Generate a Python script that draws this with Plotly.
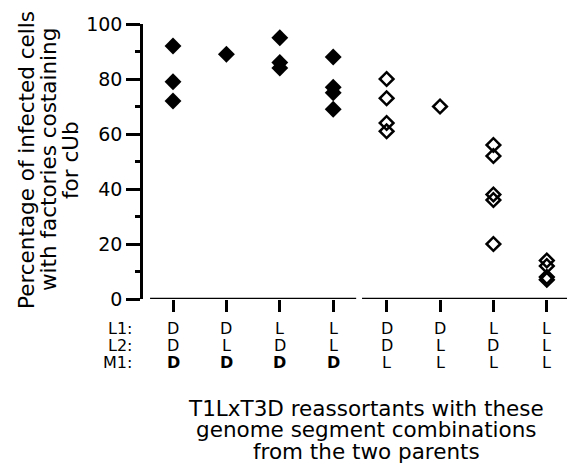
import plotly.graph_objects as go

# ---- data ----
categories = [0, 1, 2, 3, 4, 5, 6, 7]
L1 = ["D", "D", "L", "L", "D", "D", "L", "L"]
L2 = ["D", "L", "D", "L", "D", "L", "D", "L"]
M1 = ["D", "D", "D", "D", "L", "L", "L", "L"]
values = [
    [92, 79, 72],
    [89],
    [95, 86, 84],
    [88, 77, 75, 69],
    [80, 73, 64, 61],
    [70],
    [56, 52, 38, 36, 20],
    [14, 12, 8, 7],
]
y_ticks = [0, 20, 40, 60, 80, 100]
row_names = ["L1:", "L2:", "M1:"]
y_title_lines = ["Percentage of infected cells", "with factories costaining", "for cUb"]
x_title_lines = ["T1LxT3D reassortants with these", "genome segment combinations", "from the two parents"]

FONT = "DejaVu Sans"

# The page body has an 8px default margin; size the figure so it fits the window.
W, H = 567, 461
PL, PT, PB = 135, 16, 170
PW = W - PL          # plot width in px
PH = H - PT - PB     # plot height in px

fig = go.Figure()

fx, fy, ox, oy = [], [], [], []
for c, m, vals in zip(categories, M1, values):
    for v in vals:
        if m == "D":
            fx.append(c); fy.append(v)
        else:
            ox.append(c); oy.append(v)

fig.add_trace(go.Scatter(x=fx, y=fy, mode="markers",
                         marker=dict(symbol="diamond", size=13, color="black", line=dict(width=0)),
                         showlegend=False, cliponaxis=False))
fig.add_trace(go.Scatter(x=ox, y=oy, mode="markers",
                         marker=dict(symbol="diamond-open", size=10.5, color="black",
                                     line=dict(width=2.5, color="black")),
                         showlegend=False, cliponaxis=False))

# segmented x-axis baseline
n_left = sum(1 for m in M1 if m == "D")
fig.add_shape(type="line", xref="x", yref="y", x0=categories[0] - 0.43, x1=categories[n_left - 1] + 0.43,
              y0=0, y1=0, line=dict(color="black", width=2.5))
fig.add_shape(type="line", xref="x", yref="y", x0=categories[n_left] - 0.46, x1=categories[-1] + 0.47,
              y0=0, y1=0, line=dict(color="black", width=2.5))

annotations = []
rows = [L1, L2, M1]
shifts = [-29, -46, -63]
for r, (row, sh) in enumerate(zip(rows, shifts)):
    annotations.append(dict(x=-9 / PW, y=0, xref="paper", yref="paper", text=row_names[r], showarrow=False,
                            xanchor="right", yanchor="middle", yshift=sh,
                            font=dict(family=FONT, size=16, color="black")))
    for c, lab, m in zip(categories, row, M1):
        txt = "<b>%s</b>" % lab if (r == 2 and m == "D") else lab
        annotations.append(dict(x=c, y=0, xref="x", yref="paper", text=txt, showarrow=False,
                                xanchor="center", yanchor="middle", yshift=sh,
                                font=dict(family=FONT, size=16, color="black")))

for i, line in enumerate(y_title_lines):
    px = 26 + 22 * i - 143  # relative to plot left (screen px)
    annotations.append(dict(x=px / PW, y=(299 - 160) / PH, xref="paper", yref="paper", text=line,
                            showarrow=False, textangle=-90, xanchor="center", yanchor="middle",
                            font=dict(family=FONT, size=21.5, color="black")))

for i, line in enumerate(x_title_lines):
    annotations.append(dict(x=(366 - 143) / PW, y=0, xref="paper", yref="paper", text=line, showarrow=False,
                            xanchor="center", yanchor="middle", yshift=-109 - 21.5 * i,
                            font=dict(family=FONT, size=21.5, color="black")))

fig.update_layout(
    width=W, height=H,
    margin=dict(l=PL, r=0, t=PT, b=PB, pad=0),
    paper_bgcolor="white", plot_bgcolor="white",
    showlegend=False,
    annotations=annotations,
    xaxis=dict(range=[-0.562, 7.528], tickvals=categories, showticklabels=False,
               ticks="outside", ticklen=12, tickwidth=2.5, tickcolor="black",
               showline=False, showgrid=False, zeroline=False),
    yaxis=dict(range=[0, 100], tickvals=y_ticks, ticks="outside", ticklen=14, tickwidth=2.5,
               tickcolor="black", showline=True, linewidth=2.5, linecolor="black",
               showgrid=False, zeroline=False,
               tickfont=dict(family=FONT, size=19, color="black"),
               minor=dict(dtick=10, ticks="outside", ticklen=5, tickwidth=2.5, tickcolor="black")),
)

fig.write_html("out.html")
